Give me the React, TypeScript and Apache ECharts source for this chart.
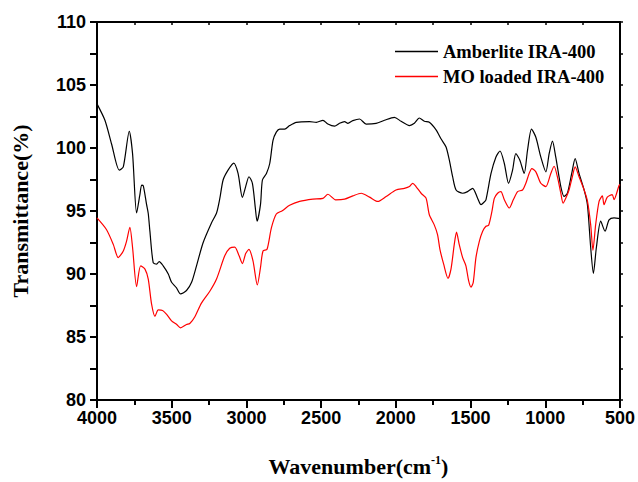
import React, { useEffect, useRef } from "react";
import * as echarts from "echarts";

const amberliteWn = [4000, 3947, 3902, 3851, 3824, 3784, 3762, 3735, 3713, 3701, 3690, 3668, 3657, 3646, 3624, 3601, 3584, 3557, 3523, 3501, 3468, 3441, 3401, 3367, 3334, 3290, 3234, 3200, 3178, 3156, 3123, 3085, 3056, 3027, 3005, 2983, 2960, 2940, 2929, 2906, 2893, 2866, 2844, 2822, 2800, 2777, 2744, 2711, 2666, 2577, 2532, 2488, 2455, 2410, 2377, 2343, 2321, 2288, 2243, 2199, 2132, 2076, 2010, 1965, 1909, 1876, 1843, 1809, 1776, 1731, 1698, 1664, 1642, 1620, 1597, 1553, 1520, 1486, 1453, 1430, 1410, 1397, 1363, 1330, 1303, 1274, 1246, 1219, 1197, 1170, 1141, 1119, 1092, 1063, 1030, 996, 974, 952, 930, 896, 874, 852, 823, 800, 774, 740, 718, 696, 678, 658, 629, 600, 573, 540, 500];
const amberliteT = [103.5, 102.2, 100.3, 98.24, 98.5, 101.33, 99.55, 94.84, 96.3, 97.06, 97.0, 95.5, 94.8, 93.4, 90.9, 90.78, 90.99, 90.65, 90.0, 89.34, 88.9, 88.42, 88.69, 89.34, 90.65, 92.48, 94.05, 94.84, 96.0, 97.46, 98.24, 98.8, 97.98, 96.07, 96.94, 97.72, 97.2, 95.2, 94.19, 95.5, 97.46, 97.98, 98.77, 100.6, 101.26, 101.5, 101.5, 101.78, 102.04, 102.09, 102.04, 102.2, 101.9, 101.73, 101.96, 102.1, 101.96, 102.17, 102.3, 101.9, 101.96, 102.2, 102.43, 102.12, 101.78, 101.96, 102.38, 102.12, 102.04, 101.44, 100.73, 100.08, 99.03, 97.72, 96.67, 96.41, 96.54, 96.8, 96.02, 95.5, 95.7, 95.89, 97.98, 99.29, 99.76, 98.77, 97.2, 98.24, 99.55, 99.03, 97.98, 99.8, 101.5, 100.85, 99.29, 98.11, 99.55, 100.55, 99.29, 96.94, 96.16, 96.41, 97.98, 99.16, 97.98, 96.67, 95.5, 92.1, 90.05, 92.1, 94.19, 93.4, 94.3, 94.45, 94.4];

const moLoadedWn = [4000, 3937, 3891, 3858, 3824, 3802, 3780, 3762, 3735, 3708, 3679, 3657, 3635, 3612, 3590, 3561, 3534, 3501, 3468, 3441, 3401, 3379, 3346, 3301, 3245, 3200, 3145, 3112, 3078, 3049, 3027, 3005, 2983, 2956, 2927, 2906, 2889, 2862, 2833, 2800, 2760, 2711, 2644, 2555, 2488, 2455, 2403, 2343, 2288, 2232, 2176, 2121, 2065, 1999, 1943, 1909, 1887, 1865, 1831, 1798, 1776, 1743, 1721, 1705, 1680, 1651, 1631, 1609, 1594, 1576, 1553, 1531, 1513, 1497, 1482, 1464, 1441, 1419, 1397, 1379, 1357, 1341, 1319, 1297, 1274, 1241, 1214, 1185, 1152, 1130, 1108, 1090, 1063, 1030, 996, 963, 941, 919, 896, 881, 863, 841, 819, 800, 774, 740, 718, 696, 681, 663, 640, 618, 607, 585, 552, 540, 507, 500];
const moLoadedT = [94.45, 93.53, 92.35, 91.3, 91.83, 92.61, 93.71, 92.1, 89.0, 90.65, 90.39, 89.6, 87.63, 86.64, 87.16, 87.11, 86.8, 86.28, 86.01, 85.73, 85.99, 86.07, 86.59, 87.69, 88.63, 89.6, 91.44, 92.04, 92.14, 91.44, 90.83, 91.62, 91.96, 91.04, 89.13, 90.5, 91.83, 91.96, 93.66, 94.76, 95.02, 95.45, 95.76, 95.94, 96.0, 96.33, 95.89, 95.94, 96.2, 96.41, 96.1, 95.76, 96.15, 96.67, 96.8, 96.94, 97.2, 96.94, 96.41, 96.02, 94.7, 93.9, 93.13, 91.96, 90.78, 89.66, 90.39, 92.35, 93.32, 92.35, 91.3, 90.65, 89.47, 88.95, 89.34, 91.3, 92.61, 93.4, 93.79, 93.87, 94.97, 96.0, 96.41, 96.54, 95.89, 95.24, 95.89, 96.54, 96.67, 97.2, 97.98, 98.37, 98.11, 97.2, 96.94, 97.98, 98.55, 97.72, 96.41, 95.63, 96.02, 96.67, 97.72, 98.5, 97.72, 96.67, 95.8, 93.9, 91.88, 93.9, 95.76, 96.2, 95.5, 96.1, 96.3, 95.9, 97.0, 97.1];

const seriesNames = ["Amberlite IRA-400", "MO loaded IRA-400"];
const xTicks = { min: 500, max: 4000, interval: 500 };
const yTicks = { min: 80, max: 110, interval: 5 };

const pairs = (xs: number[], ys: number[]) => xs.map((x, i) => [x, ys[i]]);

export default function App() {
  const ref = useRef<HTMLDivElement>(null);
  useEffect(() => {
    if (!ref.current) return;
    const chart = echarts.init(ref.current, undefined, { renderer: "svg" });
    const tickFont = {
      fontFamily: "Liberation Sans, Arial, sans-serif",
      fontWeight: "bold" as const,
      fontSize: 18,
      color: "#000",
      formatter: (v: number) => String(v),
    };
    const serif = "Liberation Serif, Times New Roman, serif";
    const axisLine = { show: true, lineStyle: { color: "#000", width: 2 } };
    chart.setOption({
      animation: false,
      backgroundColor: "#fff",
      grid: { left: 97, right: 17, top: 22, bottom: 78, containLabel: false },
      legend: {
        orient: "vertical",
        left: 395,
        top: 42,
        padding: 0,
        itemWidth: 43,
        itemHeight: 1.5,
        itemGap: 6,
        icon: "rect",
        textStyle: { fontFamily: serif, fontWeight: "bold", fontSize: 18.5, color: "#000" },
        data: seriesNames,
      },
      xAxis: [
        {
          type: "value",
          inverse: true,
          min: xTicks.min,
          max: xTicks.max,
          interval: xTicks.interval,
          position: "bottom",
          axisLine,
          axisTick: { show: true, inside: false, length: 8, lineStyle: { width: 2, color: "#000" } },
          minorTick: { show: true, splitNumber: 2, length: 5, lineStyle: { width: 2, color: "#000" } },
          splitLine: { show: false },
          axisLabel: { ...tickFont, margin: 9 },
          name: "{a|Wavenumber(cm}{s|-1}{a|)}",
          nameLocation: "middle",
          nameGap: 54,
          nameTextStyle: {
            rich: {
              a: { fontFamily: serif, fontWeight: "bold", fontSize: 22, color: "#000", lineHeight: 24 },
              s: { fontFamily: serif, fontWeight: "bold", fontSize: 12, color: "#000", verticalAlign: "top", lineHeight: 24 },
            },
          },
        },
        {
          type: "value",
          inverse: true,
          min: xTicks.min,
          max: xTicks.max,
          interval: 250,
          position: "top",
          axisLine,
          axisTick: { show: true, inside: true, length: 3, lineStyle: { width: 1.5, color: "#000" } },
          axisLabel: { show: false },
          splitLine: { show: false },
        },
      ],
      yAxis: [
        {
          type: "value",
          min: yTicks.min,
          max: yTicks.max,
          interval: yTicks.interval,
          position: "left",
          axisLine,
          axisTick: { show: true, inside: false, length: 7, lineStyle: { width: 2, color: "#000" } },
          minorTick: { show: true, splitNumber: 2, length: 7, lineStyle: { width: 2, color: "#000" } },
          splitLine: { show: false },
          axisLabel: { ...tickFont, margin: 11 },
          name: "Transmittance(%)",
          nameLocation: "middle",
          nameRotate: 90,
          nameGap: 66,
          nameTextStyle: { fontFamily: serif, fontWeight: "bold", fontSize: 22, color: "#000" },
        },
        {
          type: "value",
          min: yTicks.min,
          max: yTicks.max,
          interval: 2.5,
          position: "right",
          axisLine,
          axisTick: { show: true, inside: false, length: 3, lineStyle: { width: 1.5, color: "#000" } },
          axisLabel: { show: false },
          splitLine: { show: false },
        },
      ],
      series: [
        {
          name: seriesNames[0],
          type: "line",
          data: pairs(amberliteWn, amberliteT),
          smooth: 0.25,
          showSymbol: false,
          symbol: "none",
          lineStyle: { color: "#000", width: 1.2 },
          itemStyle: { color: "#000" },
        },
        {
          name: seriesNames[1],
          type: "line",
          data: pairs(moLoadedWn, moLoadedT),
          smooth: 0.25,
          showSymbol: false,
          symbol: "none",
          lineStyle: { color: "#ff0000", width: 1.2 },
          itemStyle: { color: "#ff0000" },
        },
      ],
    });
    return () => chart.dispose();
  }, []);
  return <div ref={ref} style={{ position: "absolute", left: 0, top: 0, width: 638, height: 482 }} />;
}
